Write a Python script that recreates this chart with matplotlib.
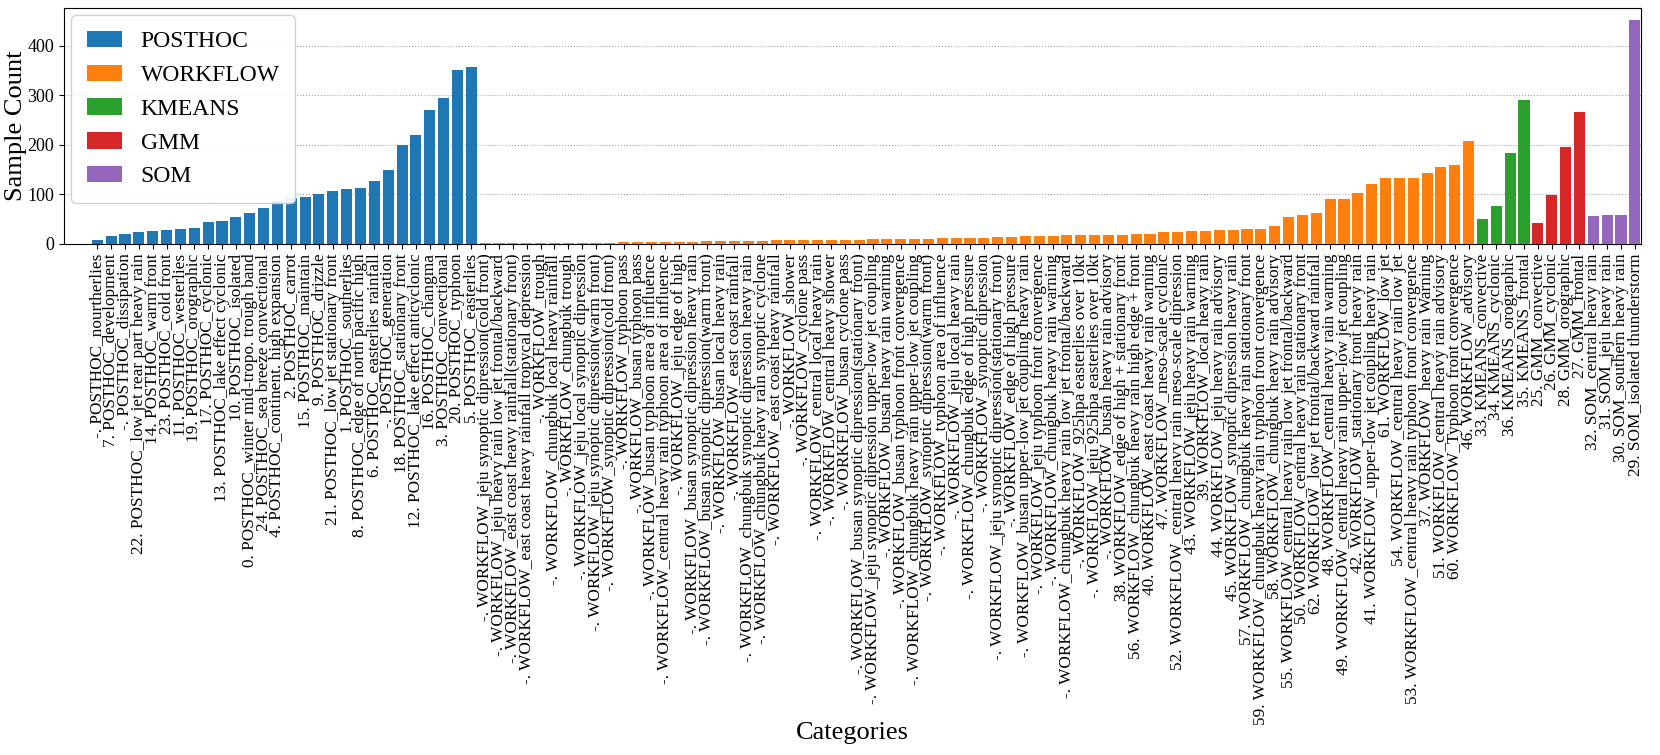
import matplotlib
matplotlib.use("Agg")
import matplotlib.pyplot as plt
from matplotlib.patches import Patch

plt.rcParams['font.family'] = ['Liberation Serif', 'DejaVu Serif']

posthoc_labels = [
    "-. POSTHOC_nourtherlies", "7. POSTHOC_development", "-. POSTHOC_dissipation",
    "22. POSTHOC_low jet rear part heavy rain", "14. POSTHOC_warm front",
    "23. POSTHOC_cold front", "11. POSTHOC_westerlies", "19. POSTHOC_orographic",
    "17. POSTHOC_cyclonic", "13. POSTHOC_lake effect cyclonic", "10. POSTHOC_isolated",
    "0. POSTHOC_winter mid-tropo. trough band", "24. POSTHOC_sea breeze convectional",
    "4. POSTHOC_continent. high expansion", "2. POSTHOC_carrot", "15. POSTHOC_maintain",
    "9. POSTHOC_drizzle", "21. POSTHOC_low jet stationary front", "1. POSTHOC_southerlies",
    "8. POSTHOC_edge of north pacific high", "6. POSTHOC_easterlies rainfall",
    "-. POSTHOC_generation", "18. POSTHOC_stationary front",
    "12. POSTHOC_lake effect anticyclonic", "16. POSTHOC_changma",
    "3. POSTHOC_convectional", "20. POSTHOC_typhoon", "5. POSTHOC_easterlies",
]
posthoc_counts = [8, 15, 19, 23, 27, 28, 31, 33, 45, 46, 54, 62, 73, 87, 93, 94,
                  100, 107, 110, 113, 127, 150, 200, 220, 270, 295, 352, 357]

workflow_labels = [
    "-. WORKFLOW_jeju synoptic dipression(cold front)",
    "-. WORKFLOW_jeju heavy rain low jet frontal/backward",
    "-. WORKFLOW_east coast heavy rainfall(stationary front)",
    "-. WORKFLOW_east coast heavy rainfall tropycal depression",
    "-. WORKFLOW_trough",
    "-. WORKFLOW_chungbuk local heavy rainfall",
    "-. WORKFLOW_chungbuk trough",
    "-. WORKFLOW_jeju local synoptic dipression",
    "-. WORKFLOW_jeju synoptic dipression(warm front)",
    "-. WORKFLOW_synoptic dipression(cold front)",
    "-. WORKFLOW_typhoon pass",
    "-. WORKFLOW_busan typhoon pass",
    "-. WORKFLOW_busan typhoon area of influence",
    "-. WORKFLOW_central heavy rain typhoon area of influence",
    "-. WORKFLOW_jeju edge of high",
    "-. WORKFLOW_busan synoptic dipression heavy rain",
    "-. WORKFLOW_busan synoptic dipression(warm front)",
    "-. WORKFLOW_busan local heavy rain",
    "-. WORKFLOW_east coast rainfall",
    "-. WORKFLOW_chungbuk synoptic dipression heavy rain",
    "-. WORKFLOW_chungbuk heavy rain synoptic cyclone",
    "-. WORKFLOW_east coast heavy rainfall",
    "-. WORKFLOW_shower",
    "-. WORKFLOW_cyclone pass",
    "-. WORKFLOW_central local heavy rain",
    "-. WORKFLOW_central heavy shower",
    "-. WORKFLOW_busan cyclone pass",
    "-. WORKFLOW_busan synoptic dipression(stationary front)",
    "-. WORKFLOW_jeju synoptic dipression upper-low jet coupling",
    "-. WORKFLOW_busan heavy rain warning",
    "-. WORKFLOW_busan typhoon front convergence",
    "-. WORKFLOW_chungbuk heavy rain upper-low jet coupling",
    "-. WORKFLOW_synoptic dipression(warm front)",
    "-. WORKFLOW_typhoon area of influence",
    "-. WORKFLOW_jeju local heavy rain",
    "-. WORKFLOW_chungbuk edge of high pressure",
    "-. WORKFLOW_synoptic dipression",
    "-. WORKFLOW_jeju synoptic dipression(stationary front)",
    "-. WORKFLOW_edge of high pressure",
    "-. WORKFLOW_busan upper-low jet coupling heavy rain",
    "-. WORKFLOW_jeju typhoon front convergence",
    "-. WORKFLOW_chungbuk heavy rain warning",
    "-. WORKFLOW_chungbuk heavy rain low jet frontal/backward",
    "-. WORKFLOW_925hpa easterlies over 10kt",
    "-. WORKFLOW_jeju 925hpa easterlies over 10kt",
    "-. WORKFLOW_busan heavy rain advisory",
    "38. WORKFLOW_edge of high + stationary front",
    "56. WORKFLOW_chungbuk heavy rain high edge + front",
    "40. WORKFLOW_east coast heavy rain warning",
    "47. WORKFLOW_meso-scale cyclonic",
    "52. WORKFLOW_central heavy rain meso-scale dipression",
    "43. WORKFLOW_jeju heavy rain warning",
    "39. WORKFLOW_local heavy rain",
    "44. WORKFLOW_jeju heavy rain advisory",
    "45. WORKFLOW_synoptic dipression heavy rain",
    "57. WORKFLOW_chungbuk heavy rain stationary front",
    "59. WORKFLOW_chungbuk heavy rain typhoon front convergence",
    "58. WORKFLOW_chungbuk heavy rain advisory",
    "55. WORKFLOW_central heavy rain low jet frontal/backward",
    "50. WORKFLOW_central heavy rain stationary front",
    "62. WORKFLOW_low jet frontal/backward rainfall",
    "48. WORKFLOW_central heavy rain warning",
    "49. WORKFLOW_central heavy rain upper-low jet coupling",
    "42. WORKFLOW_stationary front heavy rain",
    "41. WORKFLOW_upper-low jet coupling heavy rain",
    "61. WORKFLOW_low jet",
    "54. WORKFLOW_central heavy rain low jet",
    "53. WORKFLOW_central heavy rain typhoon front convergence",
    "37. WORKFLOW_heavy rain Warning",
    "51. WORKFLOW_central heavy rain advisory",
    "60. WORKFLOW_Typhoon front convergence",
    "46. WORKFLOW_advisory",
]
workflow_counts = [1, 1, 1, 1, 1, 1, 1, 2, 2, 2,
                   3, 3, 4, 4, 4, 4, 5, 5, 6, 6,
                   6, 7, 7, 7, 7, 7, 8, 8, 9, 9,
                   9, 10, 10, 11, 11, 11, 12, 13, 14, 15,
                   16, 16, 17, 17, 18, 18,
                   18, 19, 20, 23, 24, 25, 26, 28, 29, 30, 31,
                   37, 55, 58, 62, 90, 90, 103, 120, 133, 133, 133, 143, 155, 160, 207]

kmeans_labels = ["33. KMEANS_convective", "34. KMEANS_cyclonic",
                 "36. KMEANS_orographic", "35. KMEANS_frontal"]
kmeans_counts = [50, 76, 183, 290]

gmm_labels = ["25. GMM_convective", "26. GMM_cyclonic",
              "28. GMM_orographic", "27. GMM_frontal"]
gmm_counts = [42, 99, 196, 266]

som_labels = ["32. SOM_central heavy rain", "31. SOM_jeju heavy rain",
              "30. SOM_southern heavy rain", "29. SOM_isolated thunderstorm"]
som_counts = [56, 58, 59, 453]

groups = ["POSTHOC", "WORKFLOW", "KMEANS", "GMM", "SOM"]
colors = ["#1f77b4", "#ff7f0e", "#2ca02c", "#d62728", "#9467bd"]

all_labels = posthoc_labels + workflow_labels + kmeans_labels + gmm_labels + som_labels
all_counts = posthoc_counts + workflow_counts + kmeans_counts + gmm_counts + som_counts
sizes = [len(posthoc_counts), len(workflow_counts), len(kmeans_counts),
         len(gmm_counts), len(som_counts)]
bar_colors = []
for c, n in zip(colors, sizes):
    bar_colors += [c] * n

fig = plt.figure(figsize=(16.6, 7.55), dpi=100)
ax = fig.add_axes([0.0386, 0.677, 0.950, 0.312])

x = list(range(len(all_counts)))
ax.bar(x, all_counts, color=bar_colors, width=0.8, zorder=3)
ax.set_xticks(x)
ax.set_xticklabels(all_labels, rotation=90, fontsize=12.4)
ax.tick_params(axis='y', labelsize=13)
ax.set_xlim(-2.4, len(x) - 0.55)
ax.set_ylim(0, 476)
ax.yaxis.grid(True, linestyle=':', color='gray', alpha=0.7, zorder=0)
ax.set_ylabel("Sample Count", fontsize=19, labelpad=0)
ax.set_xlabel("Categories", fontsize=19)
ax.xaxis.set_label_coords(0.5, -2.03)

handles = [Patch(facecolor=c, label=g) for g, c in zip(groups, colors)]
ax.legend(handles=handles, loc='upper left', fontsize=17, labelspacing=0.52,
          handlelength=1.5, borderpad=0.65, borderaxespad=0.3, framealpha=0.9)

fig.savefig("out.png", dpi=100)
